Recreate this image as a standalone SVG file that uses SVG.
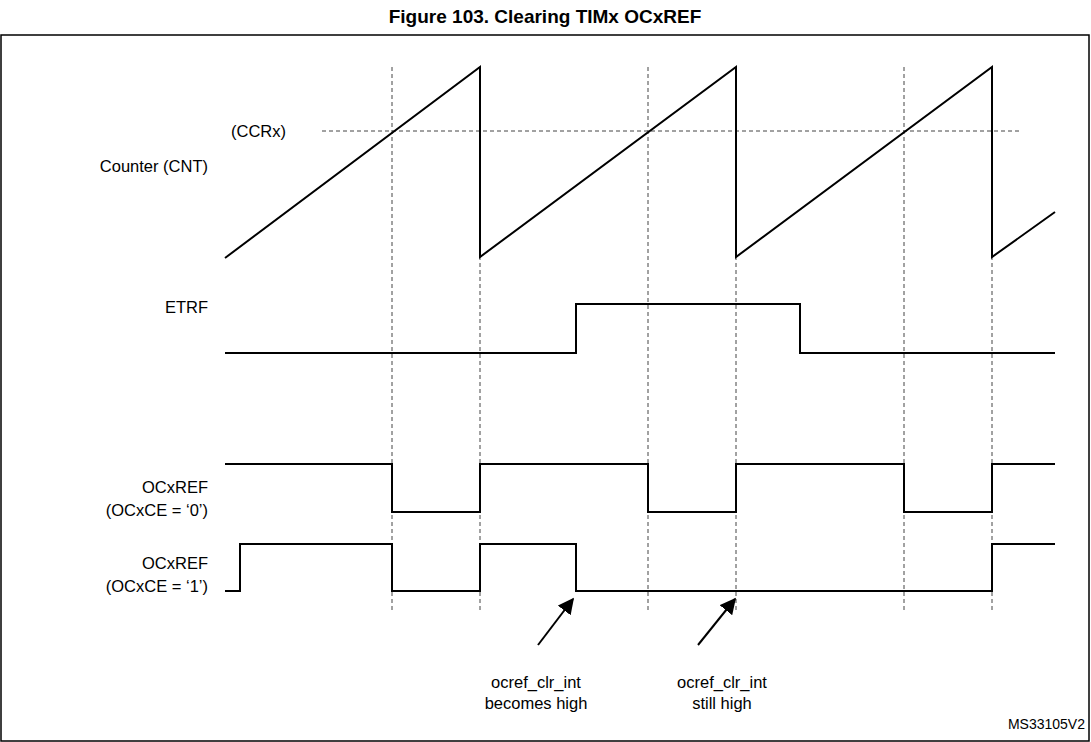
<svg xmlns="http://www.w3.org/2000/svg" width="1091" height="742" viewBox="0 0 1091 742">
<style>
text{font-family:"Liberation Sans",Arial,sans-serif;font-size:16.5px;fill:#000}
.r{text-anchor:end}.c{text-anchor:middle}
.w{fill:none;stroke:#000;stroke-width:2}
.d{fill:none;stroke:#444;stroke-width:1;stroke-dasharray:4,3}
</style>
<defs><marker id="a" viewBox="0 0 10 10" refX="9" refY="5" markerWidth="8" markerHeight="8" orient="auto"><path d="M0,0L10,5L0,10z" fill="#000"/></marker></defs>
<rect width="1091" height="742" fill="#fff"/>
<text x="545" y="23" class="c" style="font-weight:bold;font-size:19px">Figure 103. Clearing TIMx OCxREF</text>
<rect x="1" y="35" width="1088" height="706" fill="none" stroke="#000" stroke-width="1.5"/>
<g id="grid">
<path class="d" d="M392,67V612M480,67V612M648,67V612M736,67V612M904,67V612M992,67V612M322,131H1020"/>
</g>
<g id="labels">
<text x="231" y="137">(CCRx)</text>
<text x="208" y="172" class="r">Counter (CNT)</text>
<text x="208" y="313" class="r">ETRF</text>
<text x="208" y="493" class="r">OCxREF</text>
<text x="208" y="516" class="r">(OCxCE = ‘0’)</text>
<text x="208" y="569" class="r">OCxREF</text>
<text x="208" y="592" class="r">(OCxCE = ‘1’)</text>
<text x="536" y="688" class="c">ocref_clr_int</text>
<text x="536" y="709" class="c">becomes high</text>
<text x="722" y="688" class="c">ocref_clr_int</text>
<text x="722" y="709" class="c">still high</text>
<text x="1085" y="729" class="r" style="font-size:14px">MS33105V2</text>
</g>
<g id="counter"><path class="w" d="M225,258L480,67V257L736,67V257L992,67V257L1055,212"/></g>
<g id="etrf"><path class="w" d="M225,353H576V304H800V353H1055"/></g>
<g id="ocxref0"><path class="w" d="M225,464H392V512H480V464H648V512H736V464H904V512H992V464H1055"/></g>
<g id="ocxref1"><path class="w" d="M225,591H240V544H392V591H480V544H576V591H992V544H1055"/></g>
<g id="connectors">
<path class="w" stroke-width="1.5" d="M538,645L573,599" marker-end="url(#a)"/>
<path class="w" stroke-width="1.5" d="M698,645L735,599" marker-end="url(#a)"/>
</g>
</svg>
